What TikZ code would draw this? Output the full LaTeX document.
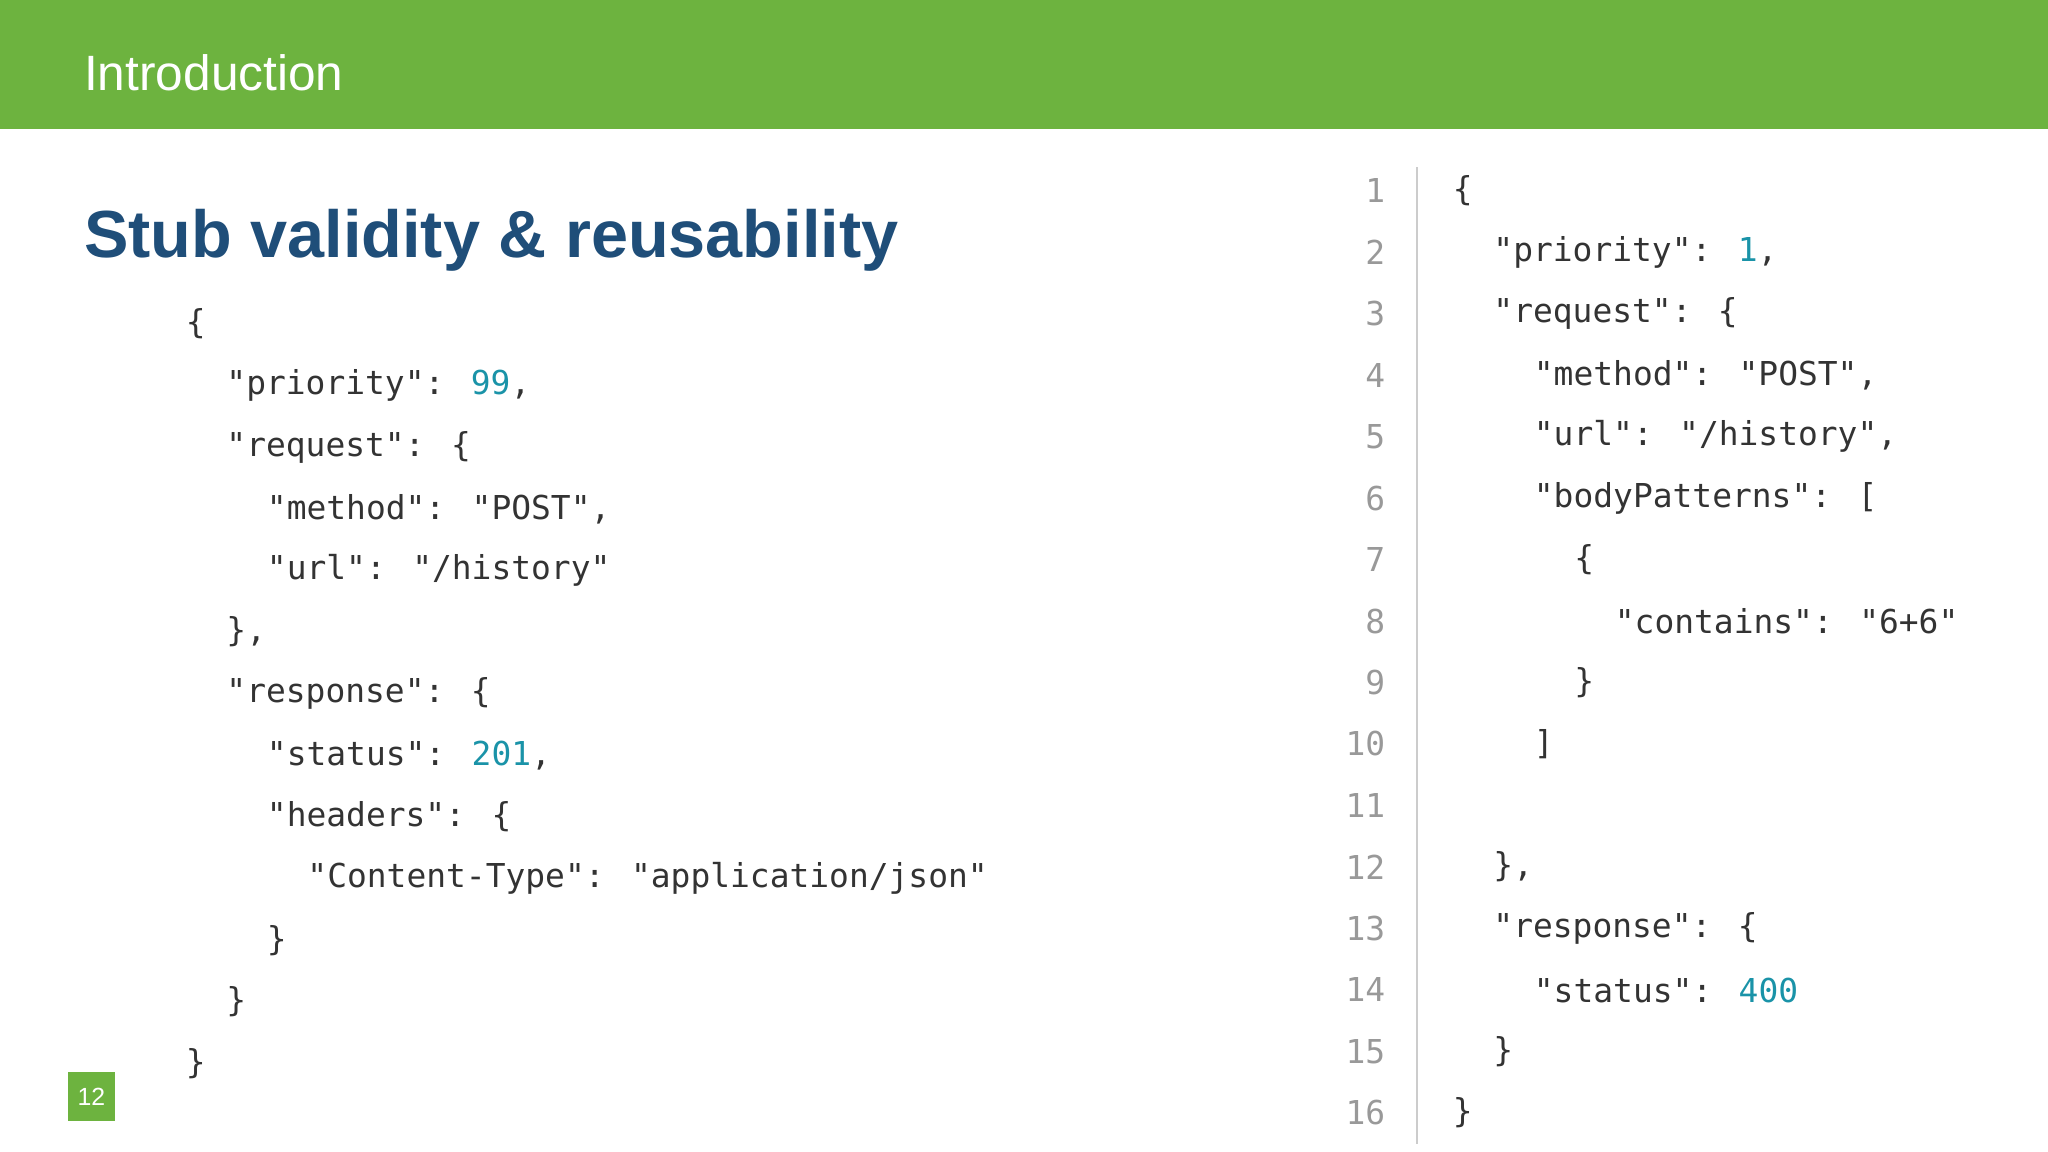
\documentclass[tikz,border=0pt]{standalone}
\usepackage{fontspec}
\setmainfont{Liberation Sans}
\newfontfamily\codefont{DejaVu Sans Mono}
\definecolor{barg}{HTML}{6DB33F}
\definecolor{ttl}{HTML}{1F4E79}
\definecolor{num}{HTML}{1A93A8}
\definecolor{txt}{HTML}{333333}
\definecolor{lno}{HTML}{999999}
\newcommand{\nm}[1]{\textcolor{num}{#1}}
\begin{document}
\begin{tikzpicture}[x=0.5pt,y=-0.5pt,
  code/.style={anchor=west,inner sep=0pt,font=\codefont\fontsize{12.6}{14}\selectfont,text=txt},
  lnum/.style={anchor=east,inner sep=0pt,font=\codefont\fontsize{12.6}{14}\selectfont,text=lno}]
\useasboundingbox (0,0) rectangle (1568,882);
\fill[white] (0,0) rectangle (1568,882);
\fill[barg] (0,0) rectangle (1568,99);
\node[anchor=west,inner sep=0pt,text=white,font=\fontsize{19}{22}\selectfont] (intro) at (64,56) {Introduction};
\node[anchor=west,inner sep=0pt,text=ttl,font=\bfseries\fontsize{25.5}{30}\selectfont] (head) at (64,184) {Stub validity \& reusability};
\fill[barg] (52,821) rectangle (88,858);
\node[text=white,font=\fontsize{9.5}{11}\selectfont,inner sep=0pt] (pg) at (70,840) {12};
% left code
\def\dy{47.2}
\node[code] (l1) at (142,248) {\{};
\node[code] (l2) at (173,295.2) {"priority": \nm{99},};
\node[code] (l3) at (173,342.4) {"request": \{};
\node[code] (l4) at (204,389.6) {"method": "POST",};
\node[code] (l5) at (204,436.8) {"url": "/history"};
\node[code] (l6) at (173,484) {\},};
\node[code] (l7) at (173,531.2) {"response": \{};
\node[code] (l8) at (204,578.4) {"status": \nm{201},};
\node[code] (l9) at (204,625.6) {"headers": \{};
\node[code] (l10) at (235,672.8) {"Content-Type": "application/json"};
\node[code] (l11) at (204,720) {\}};
\node[code] (l12) at (173,767.2) {\}};
\node[code] (l13) at (142,814.4) {\}};
% right
\draw[lno!50,line width=0.8pt] (1085,128) -- (1085,876);
\foreach \i in {1,...,16}{
  \node[lnum] (n\i) at (1061,{146+47.07*(\i-1)}) {\i};
}
\node[code] (r1) at (1112,146) {\{};
\node[code] (r2) at (1143,193.1) {"priority": \nm{1},};
\node[code] (r3) at (1143,240.1) {"request": \{};
\node[code] (r4) at (1174,287.2) {"method": "POST",};
\node[code] (r5) at (1174,334.3) {"url": "/history",};
\node[code] (r6) at (1174,381.4) {"bodyPatterns": [};
\node[code] (r7) at (1205,428.4) {\{};
\node[code] (r8) at (1236,475.5) {"contains": "6+6"};
\node[code] (r9) at (1205,522.6) {\}};
\node[code] (r10) at (1174,569.6) {]};
\node[code] (r12) at (1143,663.8) {\},};
\node[code] (r13) at (1143,710.9) {"response": \{};
\node[code] (r14) at (1174,758) {"status": \nm{400}};
\node[code] (r15) at (1143,805) {\}};
\node[code] (r16) at (1112,852) {\}};
\end{tikzpicture}
\end{document}
